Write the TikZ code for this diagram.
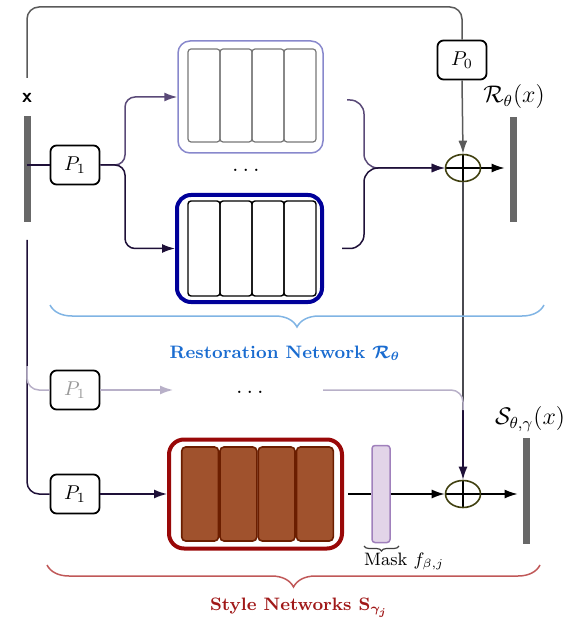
\documentclass[tikz,border=0pt]{standalone}
\usepackage{amsmath,amssymb}
\usetikzlibrary{shapes.geometric,arrows.meta,decorations.pathreplacing,calc}
\definecolor{barc}{HTML}{686868}
\definecolor{topgray}{HTML}{5A5A5A}
\definecolor{purpc}{HTML}{5A4A78}
\definecolor{darkc}{HTML}{1E1038}
\definecolor{lgray}{HTML}{B8B0C8}
\definecolor{olivec}{HTML}{404010}
\definecolor{lightblk}{HTML}{8888CC}
\definecolor{innergray}{HTML}{777777}
\definecolor{darkblue}{HTML}{000099}
\definecolor{darkred}{HTML}{990808}
\definecolor{brownfill}{HTML}{A0522D}
\definecolor{browndraw}{HTML}{6B1E00}
\definecolor{maskfill}{HTML}{E2D4E8}
\definecolor{maskdraw}{HTML}{A080BC}
\definecolor{bluebrace}{HTML}{80B4E4}
\definecolor{bluet}{HTML}{1A6CD0}
\definecolor{redbrace}{HTML}{C05858}
\definecolor{redt}{HTML}{A01818}
\definecolor{midgray}{HTML}{4A4A50}
\begin{document}
\begin{tikzpicture}[x=0.5pt,y=-0.5pt,
  pbox/.style={draw=black, line width=0.9pt, rounded corners=3pt, minimum width=24.5pt, minimum height=19.5pt, inner sep=0pt, fill=white},
  vbar/.style={fill=barc, draw=none, minimum width=3.5pt, minimum height=53pt, inner sep=0pt},
  oplus/.style={ellipse, draw=olivec, line width=0.8pt, minimum width=17.5pt, minimum height=13.5pt, inner sep=0pt,
    path picture={\draw[black, line width=0.8pt] (path picture bounding box.north) -- (path picture bounding box.south) (path picture bounding box.west) -- (path picture bounding box.east);}},
  arr/.style={-{Latex[length=6.5pt,width=4.5pt]}},
  conn/.style={line width=0.75pt},
  lightcell/.style={draw=innergray, line width=0.6pt, rounded corners=1.5pt, minimum width=16pt, minimum height=46.5pt, inner sep=0pt},
  darkcell/.style={draw=black, line width=0.7pt, rounded corners=1.5pt, minimum width=16pt, minimum height=47.5pt, inner sep=0pt},
  browncell/.style={draw=browndraw, fill=brownfill, line width=0.8pt, rounded corners=2pt, minimum width=18.4pt, minimum height=47pt, inner sep=0pt},
  dots/.style={font=\large, inner sep=0pt}
]
\useasboundingbox (0,0) rectangle (575,625);

% bars and labels
\node[vbar] (xbar) at (27,169) {};
\node[font=\sffamily\bfseries] (xlbl) at (27,98) {x};
\node[vbar, minimum height=52.5pt] (Rbar) at (513,169.5) {};
\node[font=\large] (Rlbl) at (514,97) {$\mathcal{R}_{\theta}(x)$};
\node[vbar] (Sbar) at (526,491) {};
\node[font=\large] (Slbl) at (530,419) {$\mathcal{S}_{\theta,\gamma}(x)$};

% P boxes
\node[pbox] (P0) at (462,60) {$P_0$};
\node[pbox] (P1a) at (75,165) {$P_1$};
\node[pbox, text=gray!80] (P1b) at (75,390) {$P_1$};
\node[pbox] (P1c) at (75,494) {$P_1$};

% top (light) block
\node[draw=lightblk, line width=0.75pt, rounded corners=6pt, minimum width=72.5pt, minimum height=56pt, inner sep=0pt] (topblk) at (250.5,97) {};
\foreach \i/\cx in {1/204,2/236,3/268,4/300}{
  \node[lightcell] (ta\i) at (\cx,95.5) {};
}
% bottom (dark blue) block
\node[draw=darkblue, line width=2pt, rounded corners=7pt, minimum width=72.5pt, minimum height=53.5pt, inner sep=0pt] (botblk) at (249.5,248.5) {};
\foreach \i/\cx in {1/204,2/236,3/268,4/300}{
  \node[darkcell] (tb\i) at (\cx,248.5) {};
}
% red block
\node[draw=darkred, line width=2pt, rounded corners=7.5pt, minimum width=86.5pt, minimum height=54.5pt, inner sep=0pt] (redblk) at (255.5,494) {};
\foreach \i/\cx in {1/200.1,2/238.4,3/276.6,4/314.9}{
  \node[browncell] (rc\i) at (\cx,494) {};
}
% mask
\node[draw=maskdraw, fill=maskfill, line width=0.75pt, rounded corners=1.5pt, minimum width=9pt, minimum height=48.5pt, inner sep=0pt] (mask) at (381,494) {};

% oplus
\node[oplus] (plusA) at (463,168) {};
\node[oplus] (plusB) at (463,494) {};

% dots
\node[dots] (dotsA) at (246,170) {$\ldots$};
\node[dots] (dotsB) at (250,392) {$\ldots$};

% coordinates
\coordinate (xtop) at (27,78);
\coordinate (xlow) at (27,240);
\coordinate (xmid) at (27,366);
\coordinate (oA) at (347,100);
\coordinate (oB) at (342,248.5);
\coordinate (gstart) at (323,390);
\coordinate (joinR) at (463,410);
\coordinate (gend) at (173,390);
\coordinate (redout) at (348,494);

% connectors
\draw[conn, topgray, rounded corners=6pt] (xtop) -- (27,7) -| (P0.north);
\draw[conn, topgray, arr] (P0.south) -- (plusA.north);
\draw[conn, darkc] (P1a.west -| xbar.center) -- (P1a.west);
\draw[conn, purpc, arr, rounded corners=5pt] (P1a.east) -| (125,97) -- (topblk.west);
\draw[conn, darkc, arr, rounded corners=5pt] (P1a.east) -| (125,248.5) -- (botblk.west);
\draw[conn, purpc, arr, rounded corners=7pt] (oA) -| (364,168) -- (plusA.west);
\draw[conn, darkc, arr, rounded corners=7pt] (oB) -| (364,168) -- (plusA.west);
\draw[conn, black, arr] (plusA.east) -- ([xshift=-2.25pt]plusA.east -| Rbar.west);
\draw[conn, midgray] (plusA.south) -- (joinR);
\draw[conn, darkc, arr] (joinR) -- (plusB.north);

\draw[conn, darkc, rounded corners=6pt] (xlow) |- (P1c.west);
\draw[conn, lgray, rounded corners=6pt] (xmid) |- (P1b.west);
\draw[conn, lgray, arr] (P1b.east) -- (gend);
\draw[conn, lgray, rounded corners=6pt] (gstart) -| (joinR);
\draw[conn, darkc, arr] (P1c.east) -- (redblk.west);
\draw[conn, black] (redout) -- (mask.west);
\draw[conn, black, arr] (mask.east) -- (plusB.west);
\draw[conn, black, arr] (plusB.east) -- ([xshift=-2.25pt]plusB.east -| Sbar.west);

% braces
\draw[bluebrace, line width=0.75pt, decorate, decoration={brace, mirror, amplitude=11pt}] (50,305) -- (544,305);
\node[text=bluet, font=\small\bfseries\boldmath] (restlbl) at (285,353) {Restoration Network $\mathcal{R}_{\theta}$};
\draw[redbrace, line width=0.75pt, decorate, decoration={brace, mirror, amplitude=11pt}] (47,565) -- (540,565);
\node[text=redt, font=\small\bfseries\boldmath] (stylelbl) at (299,608) {Style Networks $\mathbf{S}_{\gamma_j}$};
\draw[darkgray, line width=0.6pt, decorate, decoration={brace, mirror, amplitude=2.5pt}] (364,546) -- (399,546);
\node[font=\small] (masklbl) at (404,561) {Mask $f_{\beta,j}$};
\end{tikzpicture}
\end{document}
